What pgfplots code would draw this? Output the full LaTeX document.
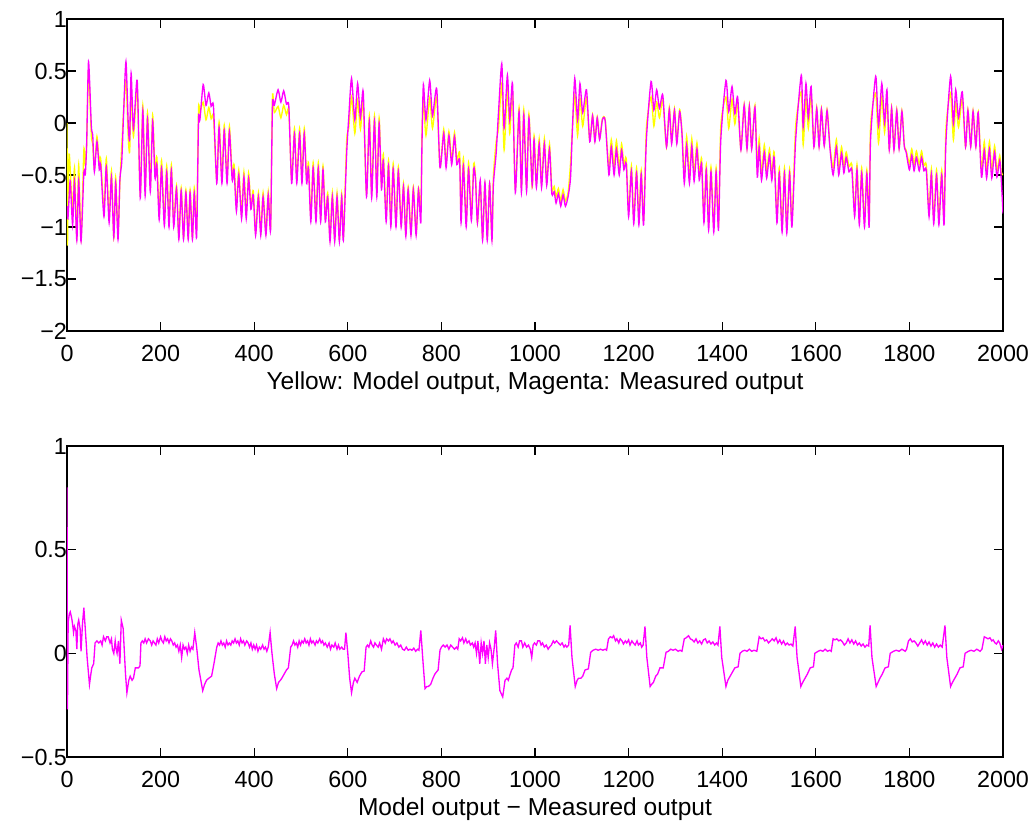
\documentclass[border=0pt]{standalone}
\usepackage{pgfplots}
\pgfplotsset{compat=1.18}
\usepackage{pgfplotstable}
\usepackage{fontspec}
\setmainfont{Liberation Sans}

\pgfplotstableread{
x meas model
0 -0.80 0.00
1 -0.86 -1.17
2 -0.92 -0.75
4.5 -0.72 -0.30
7 -0.56 -0.45
12 -0.98 -0.85
16 -0.56 -0.43
21 -1.13 -1.10
25 -0.55 -0.40
30 -1.14 -1.12
36 -0.48 -0.26
39 -0.50 -0.40
42 -0.20 -0.22
46 0.59 0.50
52 -0.03 -0.12
55 -0.12 -0.20
58.5 -0.47 -0.44
64 -0.18 -0.13
69 -0.45 -0.40
72 -0.40 -0.34
79 -0.90 -0.83
84 -0.42 -0.34
90 -0.96 -0.90
95 -0.52 -0.46
100 -1.10 -1.10
104 -0.57 -0.52
109 -1.12 -1.07
113 -0.55 -0.58
117 -0.37 -0.22
121 0.10 0.12
126 0.59 0.41
131 -0.03 -0.15
134 -0.15 -0.27
137 0.48 0.34
142 -0.06 -0.13
150 0.41 0.33
156.5 -0.72 -0.68
162 0.12 0.17
167 -0.70 -0.64
172 0.04 0.10
178 -0.66 -0.60
183 0.02 0.08
188 -0.53 -0.48
192 -0.40 -0.33
197 -0.93 -0.87
202 -0.43 -0.36
208 -0.99 -0.93
213 -0.47 -0.41
218 -1.00 -0.94
223 -0.45 -0.40
228 -1.00 -0.95
234 -0.63 -0.60
239 -1.12 -1.10
244 -0.65 -0.62
249 -1.12 -1.10
254 -0.67 -0.64
259 -1.12 -1.10
263 -0.67 -0.64
268 -1.12 -1.10
272 -0.67 -0.62
277 -1.10 -1.00
281 0.03 0.13
284 0.03 0.10
291 0.37 0.20
297 0.17 0.03
303 0.29 0.15
308 0.16 0.04
313 0.16 0.06
320 -0.58 -0.55
325 -0.04 0.01
331 -0.58 -0.53
336 -0.07 -0.02
342 -0.58 -0.53
347 -0.08 -0.03
353 -0.55 -0.50
357 -0.45 -0.40
362 -0.85 -0.80
367 -0.50 -0.45
373 -0.92 -0.87
378 -0.52 -0.47
383 -0.92 -0.87
388 -0.53 -0.48
393 -0.83 -0.79
398 -0.69 -0.65
403 -1.08 -1.05
409 -0.71 -0.67
414 -1.08 -1.05
419 -0.71 -0.67
425 -1.08 -1.05
430 -0.69 -0.66
435 -1.03 -1.00
439 0.17 0.25
443 0.17 0.10
451 0.32 0.16
457 0.20 0.05
463 0.31 0.17
469 0.18 0.08
474 0.16 0.12
480 -0.58 -0.55
486 -0.10 -0.05
491 -0.58 -0.53
497 -0.10 -0.05
502 -0.58 -0.53
507 -0.10 -0.05
512 -0.58 -0.54
516 -0.43 -0.38
521 -0.95 -0.90
526 -0.43 -0.38
532 -0.95 -0.90
537 -0.43 -0.38
542 -0.95 -0.91
547 -0.45 -0.41
552 -0.95 -0.92
557 -0.71 -0.67
562 -1.14 -1.11
567 -0.71 -0.67
572 -1.14 -1.11
577 -0.71 -0.67
582 -1.14 -1.11
587 -0.71 -0.68
590.5 -1.13 -1.10
597.6 -0.29 -0.17
602 0.05 -0.05
608 0.43 0.25
615 0.03 -0.10
621 0.38 0.22
627 0.05 -0.06
633 0.30 0.20
640 -0.71 -0.68
646 0.02 0.07
651 -0.72 -0.67
657 0.02 0.07
662 -0.71 -0.66
667 0.00 0.05
672 -0.64 -0.60
676 -0.36 -0.30
682 -0.95 -0.90
687 -0.41 -0.36
692 -1.00 -0.96
697 -0.44 -0.39
703 -1.00 -0.96
708 -0.46 -0.42
714 -1.00 -0.97
719 -0.61 -0.58
724 -1.09 -1.07
729 -0.64 -0.61
735 -1.08 -1.06
740 -0.64 -0.61
746 -1.08 -1.06
751 -0.64 -0.62
756 -0.96 -0.85
758.5 -0.20 -0.10
761.5 0.37 0.22
767 0.03 -0.12
775 0.41 0.24
781 0.07 -0.05
790 0.33 0.25
797 -0.43 -0.42
805 -0.10 -0.06
810 -0.43 -0.39
816 -0.12 -0.08
822 -0.40 -0.36
828 -0.13 -0.09
833 -0.40 -0.36
839 -0.36 -0.29
842 -0.96 -0.90
847 -0.41 -0.34
853 -1.00 -0.95
858 -0.44 -0.38
864 -0.94 -0.89
869 -0.44 -0.39
873 -0.55 -0.52
877 -0.96 -0.96
883 -0.55 -0.58
888 -1.13 -1.10
893 -0.57 -0.58
898 -1.13 -1.10
903 -0.58 -0.58
908 -1.13 -1.11
911 -0.60 -0.52
917 -0.29 -0.18
922 0.10 -0.05
929 0.57 0.38
934 -0.05 -0.26
941 0.46 0.33
946 0.03 -0.10
952 0.38 0.30
958 -0.67 -0.63
966 0.11 0.15
971 -0.67 -0.62
976 0.08 0.13
982 -0.66 -0.61
987 0.05 0.09
994 -0.60 -0.62
998 -0.16 -0.12
1003 -0.62 -0.58
1009 -0.20 -0.15
1014 -0.62 -0.58
1020 -0.20 -0.15
1025 -0.60 -0.57
1031 -0.25 -0.20
1036 -0.68 -0.64
1041 -0.66 -0.61
1045 -0.77 -0.71
1050 -0.68 -0.63
1055 -0.80 -0.75
1060 -0.69 -0.64
1065 -0.80 -0.75
1071 -0.70 -0.66
1076 -0.52 -0.38
1080 -0.05 -0.05
1085 0.43 0.27
1091 0.03 -0.12
1096 0.38 0.24
1102 0.10 -0.03
1110 0.32 0.24
1117 -0.18 -0.17
1123 0.07 0.08
1128 -0.18 -0.17
1133 0.05 0.06
1138 -0.16 -0.15
1144 0.03 0.04
1150 0.02 0.03
1158 -0.50 -0.44
1163 -0.23 -0.16
1169 -0.50 -0.42
1174 -0.25 -0.17
1180 -0.50 -0.43
1185 -0.26 -0.20
1190 -0.45 -0.40
1195 -0.39 -0.34
1200 -0.90 -0.85
1206 -0.46 -0.41
1211 -0.97 -0.92
1217 -0.48 -0.43
1222 -0.98 -0.93
1227 -0.49 -0.45
1232 -0.98 -0.94
1238 -0.16 -0.05
1248 0.40 0.25
1254 0.125 -0.03
1260 0.32 0.20
1266 0.14 0.05
1273 0.27 0.22
1281 -0.23 -0.23
1287 0.13 0.15
1292 -0.20 -0.18
1298 0.12 0.14
1303 -0.20 -0.18
1309 0.11 0.13
1314 -0.10 -0.08
1319 -0.58 -0.51
1324 -0.21 -0.13
1330 -0.58 -0.51
1335 -0.22 -0.15
1340 -0.56 -0.49
1346 -0.25 -0.19
1351 -0.55 -0.50
1356 -0.39 -0.34
1361 -0.96 -0.91
1366 -0.45 -0.40
1371 -1.03 -0.98
1376 -0.47 -0.42
1382 -1.05 -1.00
1387 -0.47 -0.43
1392 -1.03 -0.99
1397 -0.16 -0.03
1408 0.41 0.25
1414 0.11 -0.05
1421 0.35 0.23
1427 0.09 -0.01
1433 0.25 0.19
1440 -0.26 -0.25
1447 0.17 0.18
1453 -0.25 -0.24
1458 0.16 0.17
1463 -0.25 -0.24
1470 0.15 0.17
1475 -0.52 -0.45
1479 -0.23 -0.15
1484 -0.55 -0.48
1490 -0.28 -0.21
1495 -0.53 -0.47
1501 -0.31 -0.25
1506 -0.55 -0.49
1511 -0.33 -0.28
1517 -0.96 -0.91
1522 -0.48 -0.43
1528 -1.05 -1.00
1533 -0.48 -0.43
1538 -1.06 -1.01
1544 -0.48 -0.44
1549 -1.00 -0.96
1557 -0.16 -0.03
1569 0.46 0.30
1573 -0.04 -0.21
1579 0.38 0.24
1584 0.05 -0.05
1590 0.35 0.27
1596 -0.23 -0.22
1602 0.14 0.15
1607 -0.23 -0.22
1612 0.13 0.14
1618 -0.22 -0.21
1624 0.12 0.13
1630 -0.23 -0.21
1637 -0.50 -0.43
1644 -0.23 -0.16
1649 -0.50 -0.44
1655 -0.29 -0.23
1660 -0.48 -0.42
1665 -0.33 -0.28
1671 -0.47 -0.42
1677 -0.45 -0.40
1683 -0.90 -0.85
1688 -0.45 -0.40
1693 -0.98 -0.93
1698 -0.48 -0.43
1704 -1.00 -0.95
1709 -0.49 -0.45
1714 -1.00 -0.96
1717 -0.16 -0.03
1728 0.45 0.29
1734 -0.03 -0.19
1741 0.38 0.25
1747 0.00 -0.09
1752 0.32 0.24
1757 -0.26 -0.25
1762 0.14 0.15
1767 -0.26 -0.25
1773 0.12 0.13
1778 -0.25 -0.24
1784 0.11 0.12
1789 -0.22 -0.21
1793 -0.28 -0.26
1800 -0.45 -0.39
1805 -0.31 -0.25
1810 -0.46 -0.40
1815 -0.33 -0.27
1821 -0.46 -0.40
1826 -0.33 -0.27
1831 -0.46 -0.41
1836 -0.45 -0.40
1842 -0.90 -0.85
1847 -0.49 -0.44
1852 -0.97 -0.92
1858 -0.50 -0.45
1863 -0.98 -0.93
1869 -0.50 -0.45
1874 -0.98 -0.94
1878 -0.19 -0.06
1888 0.45 0.29
1894 -0.01 -0.16
1899 0.32 0.19
1905 0.05 -0.04
1913 0.30 0.23
1920 -0.23 -0.23
1925 0.12 0.13
1931 -0.23 -0.22
1936 0.11 0.12
1942 -0.23 -0.22
1947 0.10 0.11
1954 -0.52 -0.45
1960 -0.26 -0.18
1965 -0.53 -0.46
1971 -0.25 -0.18
1976 -0.53 -0.46
1982 -0.28 -0.22
1987 -0.52 -0.46
1993 -0.36 -0.31
1996 -0.52 -0.47
2000 -0.87 -0.50
}\topdata

\pgfplotstableread{
x d
0 0.80
1 -0.27
2.5 0.15
5 0.19
7 0.20
10 0.17
12 0.14
14 0.10
16 0.13
19 0.11
21 0.02
23 0.14
25 0.16
28 0.12
30 0.01
33 0.14
36 0.22
39 0.12
43 -0.02
48 -0.15
51 -0.10
53 -0.07
57 -0.05
60 0.05
64 0.06
68 0.05
72 0.06
75 0.04
78 0.08
82 0.06
85 0.08
88 0.08
92 0.05
95 0.07
97 0.02
100 0.00
103 0.06
105 0.02
107 0.00
110 0.06
113 -0.05
116 0.16
120 0.12
125 -0.10
128 -0.19
132 -0.13
135 -0.11
139 -0.13
142 -0.12
146 -0.07
149 -0.07
153 -0.07
156 -0.06
158 0.05
161 0.06
164 0.05
167 0.07
170 0.05
174 0.07
178 0.06
181 0.04
184 0.06
187 0.05
190 0.04
193 0.07
196 0.05
200 0.08
203 0.06
206 0.05
209 0.08
212 0.06
215 0.07
218 0.05
221 0.07
224 0.06
227 0.04
230 0.05
233 0.03
236 0.04
239 0.01
242 0.04
245 -0.02
248 0.04
251 0.02
254 0.03
257 0.00
260 0.04
263 0.01
266 0.03
269 0.02
273 0.10
277 0.03
282 -0.08
290 -0.18
294 -0.15
298 -0.13
303 -0.12
309 -0.11
314 -0.05
320 0.03
323 0.05
326 0.04
329 0.06
332 0.04
335 0.05
338 0.03
341 0.06
344 0.04
347 0.05
350 0.04
353 0.06
356 0.05
359 0.07
362 0.05
365 0.06
368 0.04
371 0.07
374 0.05
377 0.06
380 0.04
384 0.06
387 0.05
390 0.03
393 0.05
396 0.02
399 0.04
402 0.02
405 0.04
408 0.01
411 0.03
414 0.02
418 0.04
421 0.02
424 0.03
427 0.01
430 0.03
434 0.10
438 0.00
443 -0.10
448 -0.17
452 -0.14
456 -0.13
459 -0.12
464 -0.10
469 -0.08
473 -0.07
478 0.03
481 0.04
484 0.06
487 0.04
490 0.05
493 0.03
496 0.06
499 0.04
502 0.06
505 0.05
508 0.07
511 0.05
514 0.06
517 0.04
520 0.07
523 0.05
526 0.06
530 0.04
533 0.06
536 0.05
540 0.07
543 0.05
546 0.06
549 0.04
552 0.05
556 0.03
560 0.05
563 0.02
566 0.04
570 0.03
573 0.05
577 0.02
580 0.04
583 0.02
587 0.03
590 0.02
593 0.02
596 0.10
600 0.00
604 -0.12
608 -0.19
612 -0.14
615 -0.12
620 -0.14
625 -0.11
630 -0.09
635 -0.085
639 0.03
642 0.04
645 0.03
649 0.06
652 0.04
655 0.03
658 0.05
661 0.04
665 0.03
668 0.05
672 0.02
676 0.07
680 0.05
683 0.07
687 0.06
690 0.07
694 0.05
697 0.06
701 0.04
705 0.05
709 0.03
713 0.04
717 0.02
721 0.015
725 0.03
729 0.015
733 0.02
737 0.015
741 0.025
745 0.01
749 0.02
752 0.015
756 0.11
760 -0.02
765 -0.17
769 -0.16
772 -0.16
777 -0.15
782 -0.12
786 -0.10
793 -0.08
797 0.015
800 0.03
804 0.04
808 0.03
812 0.04
816 0.02
820 0.04
824 0.03
828 0.02
832 0.03
835 0.02
838 0.07
841 0.06
845 0.075
848 0.05
852 0.07
855 0.05
859 0.06
862 0.04
866 0.05
869 0.03
872 0.05
875 0.00
878 0.06
882 -0.05
885 0.05
888 0.00
891 0.06
894 -0.05
897 0.04
900 -0.02
903 0.05
906 0.02
909 -0.05
913 0.03
916 0.11
920 -0.05
925 -0.18
931 -0.21
936 -0.13
940 -0.12
943 -0.13
947 -0.10
950 -0.08
953 -0.07
957 0.04
960 0.05
964 0.03
967 0.06
971 0.06
974 0.03
978 0.05
982 0.03
986 0.04
990 0.02
993 -0.02
996 0.04
999 0.05
1003 0.04
1006 0.06
1010 0.06
1013 0.04
1016 0.05
1020 0.03
1024 0.04
1028 0.02
1031 0.03
1035 0.04
1039 0.06
1042 0.05
1046 0.06
1050 0.05
1054 0.04
1058 0.05
1062 0.03
1065 0.04
1068 0.03
1072 0.04
1075 0.135
1079 -0.02
1086 -0.16
1090 -0.13
1093 -0.12
1098 -0.12
1102 -0.11
1107 -0.08
1114 -0.075
1119 0.005
1124 0.015
1130 0.02
1135 0.015
1140 0.02
1145 0.015
1150 0.02
1153 0.015
1157 0.07
1161 0.08
1165 0.075
1168 0.085
1172 0.06
1175 0.07
1179 0.05
1182 0.07
1186 0.06
1189 0.045
1193 0.06
1196 0.05
1200 0.065
1203 0.04
1207 0.06
1210 0.05
1214 0.04
1218 0.06
1221 0.04
1225 0.05
1228 0.03
1231 0.04
1235 0.13
1239 -0.02
1246 -0.16
1249 -0.15
1253 -0.14
1258 -0.11
1262 -0.10
1267 -0.07
1274 -0.07
1280 0.005
1285 0.01
1290 0.02
1295 0.015
1300 0.02
1306 0.01
1310 0.015
1314 0.01
1319 0.07
1323 0.075
1328 0.085
1332 0.07
1336 0.065
1340 0.055
1344 0.07
1348 0.05
1352 0.06
1356 0.045
1360 0.065
1364 0.07
1368 0.05
1372 0.06
1376 0.045
1380 0.055
1384 0.04
1388 0.05
1391 0.04
1395 0.13
1399 -0.02
1408 -0.16
1412 -0.13
1417 -0.11
1422 -0.09
1427 -0.07
1434 -0.065
1438 0.0
1443 0.01
1448 0.015
1453 0.01
1458 0.02
1463 0.01
1468 0.015
1474 0.01
1479 0.08
1483 0.07
1487 0.075
1491 0.06
1495 0.065
1499 0.05
1503 0.06
1507 0.07
1511 0.06
1515 0.075
1519 0.05
1523 0.065
1527 0.045
1531 0.06
1535 0.04
1539 0.05
1543 0.04
1547 0.045
1551 0.035
1556 0.13
1560 -0.02
1568 -0.16
1572 -0.14
1577 -0.12
1582 -0.10
1588 -0.07
1595 -0.065
1598 0.0
1605 0.01
1610 0.015
1615 0.01
1620 0.02
1625 0.01
1630 0.015
1633 0.01
1637 0.07
1641 0.065
1645 0.07
1649 0.06
1653 0.065
1657 0.055
1661 0.04
1665 0.05
1669 0.07
1673 0.05
1677 0.065
1681 0.045
1685 0.06
1689 0.04
1693 0.05
1697 0.035
1701 0.045
1705 0.03
1709 0.04
1713 0.035
1716 0.135
1720 -0.02
1729 -0.16
1733 -0.14
1737 -0.12
1742 -0.10
1748 -0.07
1755 -0.065
1759 0.0
1766 0.01
1772 0.015
1778 0.01
1784 0.02
1791 0.01
1794 0.02
1798 0.06
1802 0.07
1806 0.055
1810 0.06
1814 0.05
1818 0.035
1822 0.05
1826 0.065
1830 0.045
1834 0.06
1838 0.04
1842 0.055
1846 0.035
1850 0.05
1854 0.03
1858 0.045
1862 0.03
1866 0.04
1870 0.03
1876 0.135
1880 -0.02
1888 -0.16
1892 -0.14
1897 -0.12
1902 -0.10
1908 -0.07
1915 -0.065
1919 0.0
1926 0.01
1932 0.015
1938 0.01
1944 0.02
1951 0.01
1955 0.02
1960 0.08
1964 0.075
1968 0.07
1972 0.075
1976 0.06
1979 0.065
1983 0.05
1986 0.045
1990 0.06
1993 0.05
1997 0.02
2000 0.04
}\diffdata

\pgfplotsset{
  mstyle/.style={
    scale only axis,
    width=702pt,
    xmin=0, xmax=2000,
    xtick={0,200,...,2000},
    tick align=inside,
    major tick length=6.5pt,
    axis line style={line width=0.8pt},
    every tick/.style={black, line width=0.8pt},
    tick label style={font=\fontsize{17.5}{20}\selectfont},
    label style={font=\fontsize{18.4}{21}\selectfont},
    /pgf/number format/assume math mode=true,
    /pgf/number format/1000 sep={},
    xticklabel style={yshift=-7pt},
    yticklabel style={xshift=3.5pt},
    xlabel style={yshift=-1pt},
    clip=true,
  }
}

\begin{document}
\begin{tikzpicture}
\path[use as bounding box] (-50.25pt,14.25pt) rectangle (723.75pt,-602.25pt);
\begin{axis}[mstyle, at={(0pt,0pt)}, anchor=north west, height=234pt,
  ymin=-2, ymax=1, ytick={-2,-1.5,-1,-0.5,0,0.5,1},
  yticklabels={−2,−1.5,−1,−0.5,0,0.5,1},
  xlabel={Yellow: Model output, Magenta: Measured output}]
\addplot[color={rgb,1:red,1;green,1;blue,0}, line width=1pt, smooth, tension=0.4] table[x=x,y=model]{\topdata};
\addplot[color={rgb,1:red,1;green,0;blue,1}, line width=1pt, smooth, tension=0.4] table[x=x,y=meas]{\topdata};
\end{axis}
\begin{axis}[mstyle, at={(0pt,-320.25pt)}, anchor=north west, height=233.25pt,
  ymin=-0.5, ymax=1, ytick={-0.5,0,0.5,1},
  yticklabels={−0.5,0,0.5,1},
  xlabel={Model output − Measured output}]
\addplot[color={rgb,1:red,1;green,0;blue,1}, line width=1pt] table[x=x,y=d]{\diffdata};
\end{axis}
\end{tikzpicture}
\end{document}
